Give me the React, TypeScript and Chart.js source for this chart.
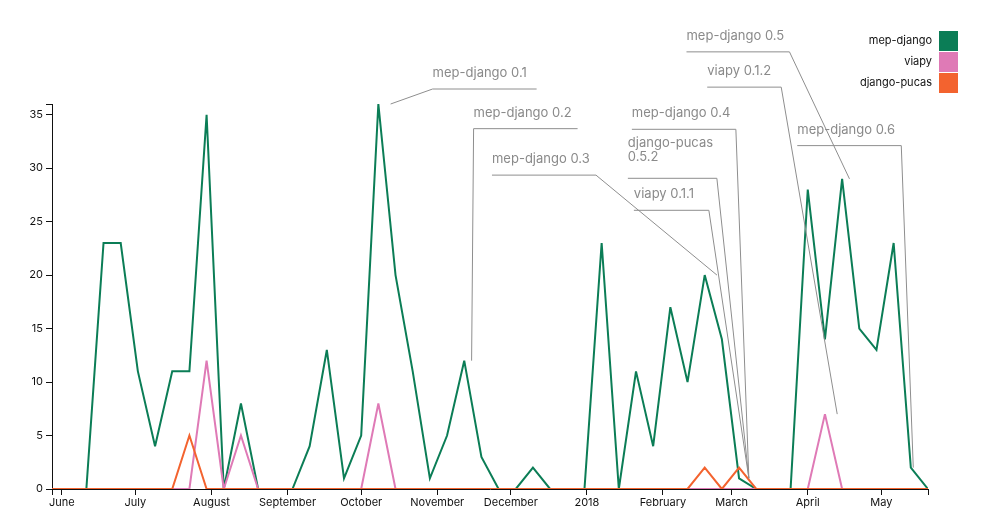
import React, { useEffect, useRef } from "react";
import { Chart, registerables } from "chart.js";

Chart.register(...registerables);

// ---- data ----
const weeks = [
  "2017-05-28", "2017-06-04", "2017-06-11", "2017-06-18", "2017-06-25",
  "2017-07-02", "2017-07-09", "2017-07-16", "2017-07-23", "2017-07-30",
  "2017-08-06", "2017-08-13", "2017-08-20", "2017-08-27", "2017-09-03",
  "2017-09-10", "2017-09-17", "2017-09-24", "2017-10-01", "2017-10-08",
  "2017-10-15", "2017-10-22", "2017-10-29", "2017-11-05", "2017-11-12",
  "2017-11-19", "2017-11-26", "2017-12-03", "2017-12-10", "2017-12-17",
  "2017-12-24", "2017-12-31", "2018-01-07", "2018-01-14", "2018-01-21",
  "2018-01-28", "2018-02-04", "2018-02-11", "2018-02-18", "2018-02-25",
  "2018-03-04", "2018-03-11", "2018-03-18", "2018-03-25", "2018-04-01",
  "2018-04-08", "2018-04-15", "2018-04-22", "2018-04-29", "2018-05-06",
  "2018-05-13", "2018-05-20",
];

const mepDjango = [
  0, 0, 0, 23, 23, 11, 4, 11, 11, 35,
  0, 8, 0, 0, 0, 4, 13, 1, 5, 36,
  20, 11, 1, 5, 12, 3, 0, 0, 2, 0,
  0, 0, 23, 0, 11, 4, 17, 10, 20, 14,
  1, 0, 0, 0, 28, 14, 29, 15, 13, 23,
  2, 0,
];

const viapy = [
  0, 0, 0, 0, 0, 0, 0, 0, 0, 12,
  0, 5, 0, 0, 0, 0, 0, 0, 0, 8,
  0, 0, 0, 0, 0, 0, 0, 0, 0, 0,
  0, 0, 0, 0, 0, 0, 0, 0, 0, 0,
  0, 0, 0, 0, 0, 7, 0, 0, 0, 0,
  0, 0,
];

const djangoPucas = [
  0, 0, 0, 0, 0, 0, 0, 0, 5, 0,
  0, 0, 0, 0, 0, 0, 0, 0, 0, 0,
  0, 0, 0, 0, 0, 0, 0, 0, 0, 0,
  0, 0, 0, 0, 0, 0, 0, 0, 2, 0,
  2, 0, 0, 0, 0, 0, 0, 0, 0, 0,
  0, 0,
];

const seriesNames = ["mep-django", "viapy", "django-pucas"];
const seriesValues = [mepDjango, viapy, djangoPucas];

const monthTickDates = [
  "2017-06-01", "2017-07-01", "2017-08-01", "2017-09-01", "2017-10-01",
  "2017-11-01", "2017-12-01", "2018-01-01", "2018-02-01", "2018-03-01",
  "2018-04-01", "2018-05-01",
];
const monthTickLabels = [
  "June", "July", "August", "September", "October", "November",
  "December", "2018", "February", "March", "April", "May",
];

const yTickValues = [0, 5, 10, 15, 20, 25, 30, 35];
const yMax = 36;

const annotationLabels = [
  ["mep-django 0.1"],
  ["mep-django 0.2"],
  ["mep-django 0.3"],
  ["mep-django 0.4"],
  ["django-pucas", "0.5.2"],
  ["viapy 0.1.1"],
  ["mep-django 0.5"],
  ["viapy 0.1.2"],
  ["mep-django 0.6"],
];
const annotationDates = [
  "2017-10-13", "2017-11-15", "2018-02-23", "2018-03-08", "2018-03-08",
  "2018-03-08", "2018-04-18", "2018-04-13", "2018-05-14",
];
const annotationValues = [36, 12, 20, 1, 1, 1, 29, 7, 2];

// ---- styles / layout ----
const seriesColors = ["#0b7d56", "#df7ab6", "#f3632f"];
const annotationLayout = [
  { dx: 42, dy: -15, width: 104 },
  { dx: 2, dy: -232, width: 104 },
  { dx: -121, dy: -100, width: 104 },
  { dx: -13, dy: -349, width: 104 },
  { dx: -32, dy: -300, width: 89 },
  { dx: -40, dy: -268, width: 75 },
  { dx: -60, dy: -127, width: 103 },
  { dx: -56, dy: -327, width: 74 },
  { dx: -12, dy: -322, width: 104 },
];
const FONT = "Inter, 'Noto Sans', sans-serif";

const DAY = 86400000;
const t0 = Date.parse(weeks[0]);
const dayOf = (s: string) => Math.round((Date.parse(s) - t0) / DAY);
const xMax = dayOf(weeks[weeks.length - 1]);
const monthTickDays = monthTickDates.map(dayOf);

const annotationPlugin = {
  id: "releaseNotes",
  afterDraw(chart: any) {
    const ctx = chart.ctx;
    const xs = chart.scales.x;
    const ys = chart.scales.y;
    ctx.save();
    ctx.font = `13px ${FONT}`;
    ctx.textAlign = "left";
    ctx.textBaseline = "middle";
    annotationLabels.forEach((lines, i) => {
      const { dx, dy, width } = annotationLayout[i];
      const ax = xs.getPixelForValue(dayOf(annotationDates[i]));
      const ay = ys.getPixelForValue(annotationValues[i]);
      const nx = ax + dx;
      const ny = ay + dy;
      const x0 = dx >= 0 ? nx : nx - width;
      const x1 = dx >= 0 ? nx + width : nx;
      const farX = dx >= 0 ? x1 : x0;
      ctx.beginPath();
      ctx.moveTo(ax, ay);
      ctx.lineTo(nx, ny);
      ctx.lineTo(farX, ny);
      ctx.strokeStyle = "#8e8e8e";
      ctx.lineWidth = 1;
      ctx.stroke();
      ctx.fillStyle = "#8a8a8a";
      const n = lines.length;
      const bottomCenter = ny - 16 - (n - 1) * 5.6;
      lines.forEach((line, k) => {
        ctx.fillText(line, x0, bottomCenter - (n - 1 - k) * 14);
      });
    });
    ctx.restore();
  },
};

const legendPlugin = {
  id: "sideLegend",
  afterDraw(chart: any) {
    const ctx = chart.ctx;
    ctx.save();
    ctx.font = `11px ${FONT}`;
    ctx.textAlign = "right";
    ctx.textBaseline = "middle";
    seriesNames.forEach((name, i) => {
      const top = 31 + i * 21;
      ctx.fillStyle = seriesColors[i];
      ctx.fillRect(939, top, 19, 20);
      ctx.fillStyle = "#111";
      ctx.fillText(name, 932, top + 10);
    });
    ctx.restore();
  },
};

const miterPlugin = {
  id: "miterLimit",
  beforeDatasetsDraw(chart: any) {
    chart.ctx.miterLimit = 4;
  },
};

export default function App() {
  const ref = useRef<HTMLCanvasElement | null>(null);

  useEffect(() => {
    if (!ref.current) return;
    Chart.defaults.font.family = FONT;
    const datasets = seriesNames.map((name, i) => ({
      label: name,
      data: weeks.map((w, j) => ({ x: dayOf(w), y: seriesValues[i][j] })),
      borderColor: seriesColors[i],
      backgroundColor: seriesColors[i],
      borderWidth: 2,
      pointRadius: 0,
      tension: 0,
      fill: false,
      order: seriesNames.length - i,
    }));
    const chart = new Chart(ref.current, {
      type: "line",
      data: { datasets },
      options: {
        animation: false,
        responsive: false,
        layout: { padding: { left: 0, right: 72, top: 104, bottom: 0 } },
        plugins: {
          legend: { display: false },
          tooltip: { enabled: false },
        },
        scales: {
          x: {
            type: "linear",
            min: 0,
            max: xMax,
            z: 1,
            afterBuildTicks: (s: any) => {
              s.ticks = [0, ...monthTickDays, xMax].map((v) => ({ value: v }));
            },
            afterFit: (s: any) => {
              s.height = 31;
            },
            ticks: {
              autoSkip: false,
              maxRotation: 0,
              padding: 1,
              color: "#111",
              font: { size: 11, family: FONT },
              callback: (v: any) => {
                const k = monthTickDays.indexOf(Number(v));
                return k >= 0 ? monthTickLabels[k] : "";
              },
            },
            grid: {
              drawOnChartArea: false,
              drawTicks: true,
              tickLength: 6,
              tickColor: "#111",
              tickWidth: 1,
            },
            border: { display: true, color: "#111", width: 1 },
          },
          y: {
            type: "linear",
            min: 0,
            max: yMax,
            afterBuildTicks: (s: any) => {
              s.ticks = [...yTickValues, yMax].map((v) => ({ value: v }));
            },
            afterFit: (s: any) => {
              s.width = 52;
            },
            ticks: {
              padding: 3,
              color: "#111",
              font: { size: 11, family: FONT },
              callback: (v: any) =>
                yTickValues.includes(Number(v)) ? String(v) : "",
            },
            grid: {
              drawOnChartArea: false,
              drawTicks: true,
              tickLength: 6,
              tickColor: "#111",
              tickWidth: 1,
            },
            border: { display: true, color: "#111", width: 1 },
          },
        },
      },
      plugins: [miterPlugin, annotationPlugin, legendPlugin],
    });
    return () => chart.destroy();
  }, []);

  return (
    <div style={{ position: "fixed", left: 0, top: 0, width: 1000, height: 520, background: "#fff" }}>
      <canvas ref={ref} width={1000} height={520} style={{ display: "block", width: 1000, height: 520 }} />
    </div>
  );
}
